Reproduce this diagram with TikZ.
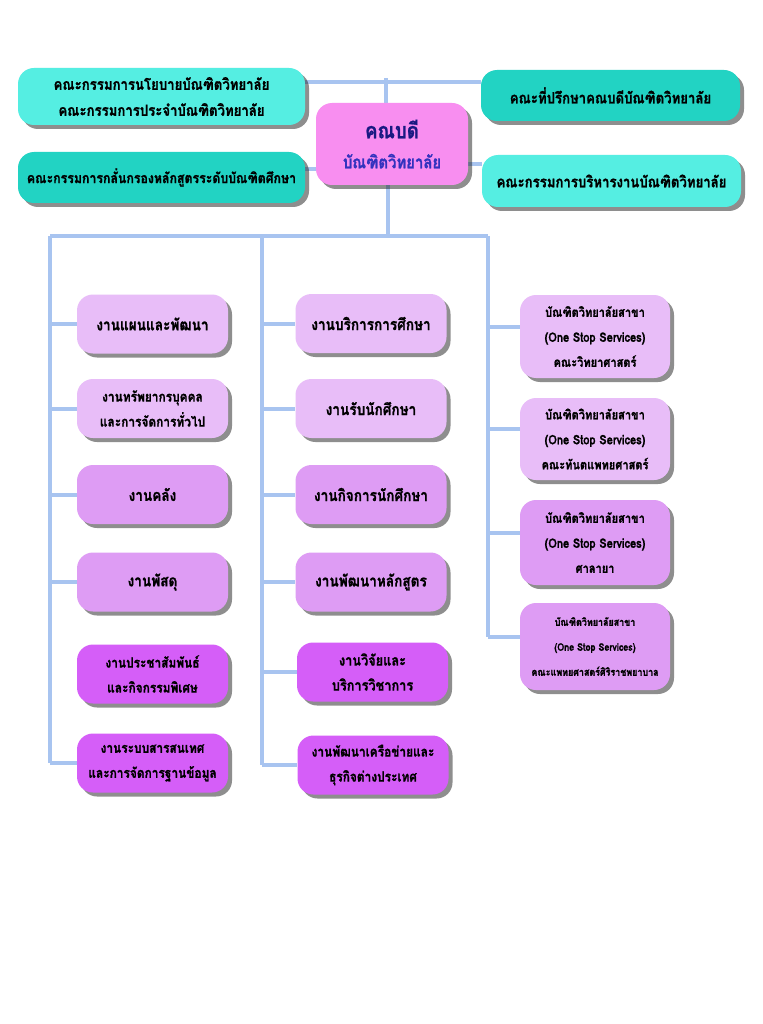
\documentclass[tikz,border=0pt]{standalone}
\usepackage{fontspec}
\newfontfamily\thaifont[Script=Thai, FakeStretch=0.85, BoldFeatures={FakeBold=1}]{Loma}
\usetikzlibrary{shadows,backgrounds}
\definecolor{gsturq}{RGB}{85,238,226}
\definecolor{gsteal}{RGB}{34,211,195}
\definecolor{gspink}{RGB}{248,142,240}
\definecolor{gslav}{RGB}{232,189,248}
\definecolor{gsmauve}{RGB}{222,156,244}
\definecolor{gspurple}{RGB}{213,94,248}
\definecolor{gsline}{RGB}{168,196,240}
\definecolor{gsnavy}{RGB}{25,25,130}
\definecolor{gsblue}{RGB}{50,50,190}

\begin{document}
\begin{tikzpicture}[x=1pt, y=-1pt,
  box/.style={rounded corners=16pt, fill=#1, align=center, inner sep=0pt,
    drop shadow={shadow xshift=4pt, shadow yshift=-4pt, fill=black!88}},
  board/.style={box=#1, minimum width=287pt, font=\thaifont\bfseries\fontsize{15.5}{26}\selectfont},
  unit/.style={box=#1, minimum width=151pt, minimum height=59pt, font=\thaifont\bfseries\fontsize{16}{25}\selectfont},
  pair/.style={unit=#1, font=\thaifont\bfseries\fontsize{14}{25}\selectfont},
  branch/.style={box=#1, minimum width=150pt, font=\thaifont\bfseries\fontsize{13}{25}\selectfont},
  link/.style={draw=gsline, line width=4pt}
]
  \useasboundingbox (0,0) rectangle (762,1024);

  % top level
  \node[box=gspink, minimum width=152pt, minimum height=82pt, text=gsnavy,
    font=\thaifont\bfseries\fontsize{17.5}{30}\selectfont] (dean) at (392,144)
    {{\fontsize{22}{30}\selectfont คณบดี}\\ {\color{gsblue}บัณฑิตวิทยาลัย}};
  \node[board=gsturq, minimum height=57pt] (policy) at (161.5,96.5)
    {คณะกรรมการนโยบายบัณฑิตวิทยาลัย\\คณะกรรมการประจำบัณฑิตวิทยาลัย};
  \node[board=gsteal, minimum height=51pt, font=\thaifont\bfseries\fontsize{14.5}{26}\selectfont] (screen) at (161.5,177.5)
    {คณะกรรมการกลั่นกรองหลักสูตรระดับบัณฑิตศึกษา};
  \node[board=gsteal, minimum width=259pt, minimum height=51pt] (advise) at (610.5,95.5)
    {คณะที่ปรึกษาคณบดีบัณฑิตวิทยาลัย};
  \node[board=gsturq, minimum width=259pt, minimum height=52pt] (manage) at (611.5,181)
    {คณะกรรมการบริหารงานบัณฑิตวิทยาลัย};

  % left column
  \node[unit=gslav] (plan) at (152.5,324) {งานแผนและพัฒนา};
  \node[pair=gslav] (hr) at (152.5,408.5) {งานทรัพยากรบุคคล\\และการจัดการทั่วไป};
  \node[unit=gsmauve] (fin) at (152.5,494.5) {งานคลัง};
  \node[unit=gsmauve] (supply) at (152.5,582) {งานพัสดุ};
  \node[pair=gspurple] (pr) at (152.5,674) {งานประชาสัมพันธ์\\และกิจกรรมพิเศษ};
  \node[pair=gspurple] (it) at (152.5,763) {งานระบบสารสนเทศ\\และการจัดการฐานข้อมูล};

  % middle column
  \node[unit=gslav] (edu) at (371,323.5) {งานบริการการศึกษา};
  \node[unit=gslav] (admit) at (371,408.5) {งานรับนักศึกษา};
  \node[unit=gsmauve] (affair) at (371,494.5) {งานกิจการนักศึกษา};
  \node[unit=gsmauve] (curr) at (371,582) {งานพัฒนาหลักสูตร};
  \node[pair=gspurple, font=\thaifont\bfseries\fontsize{15}{25}\selectfont] (research) at (372.5,672) {งานวิจัยและ\\บริการวิชาการ};
  \node[pair=gspurple] (network) at (373,765) {งานพัฒนาเครือข่ายและ\\ธุรกิจต่างประเทศ};

  % right column
  \node[branch=gslav, minimum height=83pt] (sci) at (595,336.5)
    {บัณฑิตวิทยาลัยสาขา\\(One Stop Services)\\คณะวิทยาศาสตร์};
  \node[branch=gslav, minimum height=82pt] (dent) at (595,439)
    {บัณฑิตวิทยาลัยสาขา\\(One Stop Services)\\คณะทันตแพทยศาสตร์};
  \node[branch=gsmauve, minimum height=85pt] (salaya) at (595,542.5)
    {บัณฑิตวิทยาลัยสาขา\\(One Stop Services)\\ศาลายา};
  \node[branch=gsmauve, minimum height=87pt, font=\thaifont\bfseries\fontsize{10.5}{25}\selectfont] (siriraj) at (595,646.5)
    {บัณฑิตวิทยาลัยสาขา\\(One Stop Services)\\คณะแพทยศาสตร์ศิริราชพยาบาล};

  \coordinate (top) at (386,78);
  \coordinate (bar) at (388,236);
  \coordinate (lspine) at (50,236);
  \coordinate (mspine) at (262,236);
  \coordinate (rspine) at (488,236);

  \begin{scope}[on background layer]
    \fill[white] (0,0) rectangle (762,1024);
    % upper links
    \draw[link] (dean.north -| top) -- (top);
    \draw[link] (policy.east |- 0,82) -- (advise.west |- 0,82);
    \draw[link] ([yshift=8pt]screen.east) -- ([yshift=8pt]screen.east -| dean.west);
    \draw[link] ([yshift=17pt]manage.west) -- ([yshift=17pt]manage.west -| dean.east);
    \draw[link] (dean.south -| bar) -- (bar);
    \draw[link] (lspine) -- (rspine);
    % spines
    \draw[link] (lspine) -- (lspine |- it.west);
    \draw[link] (mspine) -- (mspine |- network.west);
    \draw[link] (rspine) -- ([yshift=10pt]rspine |- siriraj.west);
    \foreach \n in {plan,hr,fin,supply,it}
      \draw[link] (lspine |- \n.west) -- (\n.west);
    \foreach \n in {edu,admit,affair,curr,research,network}
      \draw[link] (mspine |- \n.west) -- (\n.west);
    \foreach \n in {sci,dent,salaya,siriraj}
      \draw[link] ([yshift=10pt]rspine |- \n.west) -- ([yshift=10pt]\n.west);
  \end{scope}
\end{tikzpicture}
\end{document}
